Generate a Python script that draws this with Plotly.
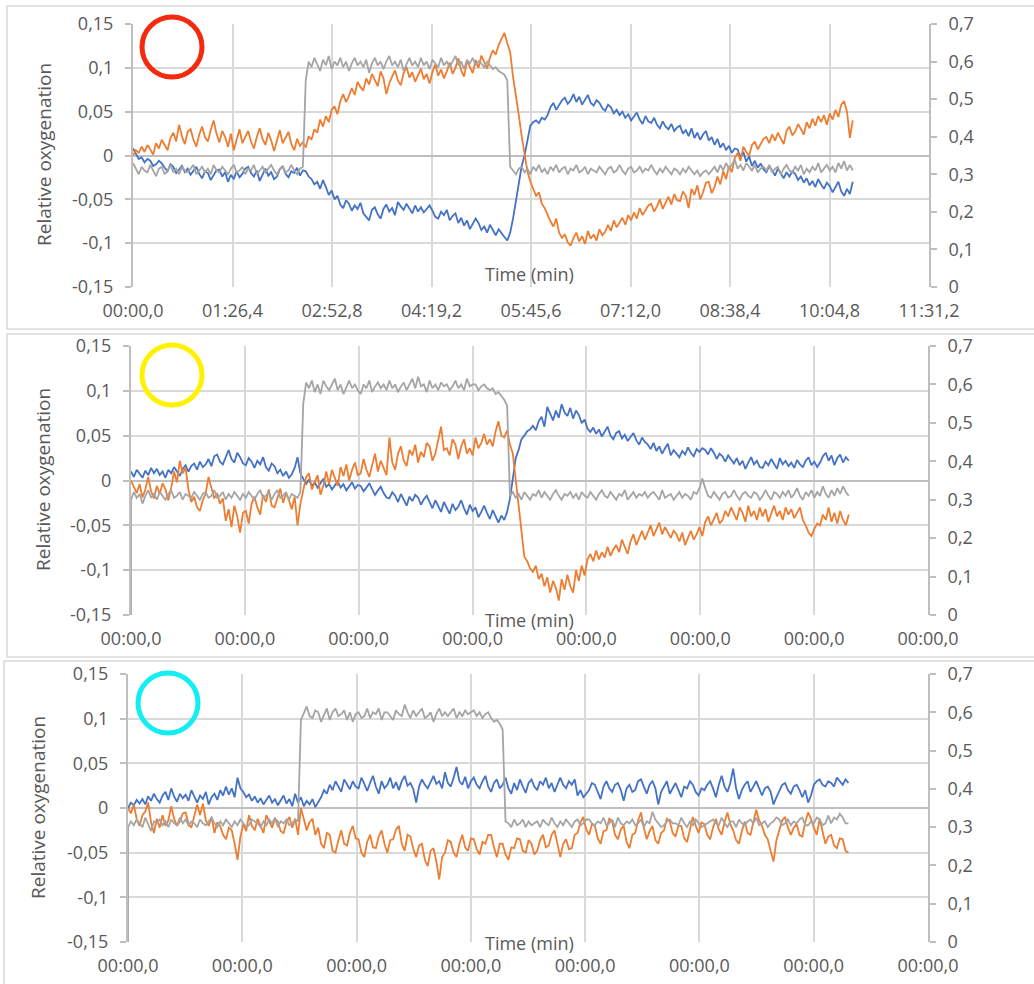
import plotly.graph_objects as go

# ---------------- data (sampled every 2.5 s) ----------------
STEP_S = 2.5

# Panel 1 (red circle)
B1 = [0.008, 0.002, -0.004, -0.002, -0.008, -0.004, -0.006, -0.012, -0.010, -0.006,
      -0.009, -0.014, -0.018, -0.010, -0.013, -0.020, -0.016, -0.012, -0.019, -0.015,
      -0.022, -0.017, -0.013, -0.021, -0.026, -0.018, -0.020, -0.028, -0.023, -0.017,
      -0.016, -0.024, -0.019, -0.030, -0.022, -0.027, -0.018, -0.025, -0.021, -0.015,
      -0.013, -0.020, -0.024, -0.017, -0.029, -0.022, -0.015, -0.023, -0.019, -0.027,
      -0.024, -0.016, -0.012, -0.021, -0.025, -0.018, -0.020, -0.014, -0.023, -0.017,
      -0.018, -0.024, -0.027, -0.033, -0.030, -0.038, -0.028, -0.036, -0.045, -0.040,
      -0.050, -0.046, -0.056, -0.060, -0.051, -0.055, -0.063, -0.057, -0.061, -0.054,
      -0.066, -0.070, -0.074, -0.062, -0.059, -0.067, -0.072, -0.061, -0.056, -0.064,
      -0.060, -0.068, -0.053, -0.058, -0.062, -0.055, -0.061, -0.066, -0.057, -0.064,
      -0.059, -0.065, -0.061, -0.057, -0.063, -0.070, -0.072, -0.064, -0.068, -0.062,
      -0.074, -0.069, -0.066, -0.077, -0.071, -0.080, -0.074, -0.084, -0.078, -0.072,
      -0.077, -0.085, -0.081, -0.088, -0.079, -0.086, -0.091, -0.084, -0.089, -0.093,
      -0.097, -0.088, -0.072, -0.052, -0.030, -0.012, 0.000, 0.018, 0.034, 0.038,
      0.040, 0.037, 0.043, 0.041, 0.046, 0.055, 0.060, 0.052, 0.058, 0.063,
      0.066, 0.059, 0.063, 0.070, 0.061, 0.067, 0.058, 0.064, 0.069, 0.060,
      0.057, 0.063, 0.060, 0.054, 0.051, 0.058, 0.055, 0.048, 0.052, 0.046,
      0.050, 0.043, 0.047, 0.040, 0.044, 0.049, 0.041, 0.036, 0.045, 0.039,
      0.037, 0.043, 0.035, 0.031, 0.039, 0.033, 0.030, 0.036, 0.028, 0.032,
      0.034, 0.025, 0.029, 0.022, 0.031, 0.020, 0.026, 0.018, 0.024, 0.028,
      0.017, 0.021, 0.012, 0.019, 0.009, 0.014, 0.006, 0.011, 0.003, 0.008,
      0.007, -0.002, 0.004, -0.007, -0.001, -0.012, -0.006, -0.014, -0.009, -0.016,
      -0.019, -0.012, -0.017, -0.023, -0.015, -0.021, -0.026, -0.019, -0.024, -0.018,
      -0.021, -0.028, -0.024, -0.031, -0.026, -0.034, -0.029, -0.036, -0.027, -0.033,
      -0.038, -0.031, -0.035, -0.042, -0.036, -0.030, -0.041, -0.046, -0.038, -0.044,
      -0.030]
O1 = [0.000, 0.006, 0.003, 0.010, 0.004, 0.012, 0.007, 0.001, 0.014, 0.008,
      0.018, 0.011, 0.006, 0.020, 0.026, 0.016, 0.035, 0.022, 0.013, 0.027,
      0.030, 0.018, 0.010, 0.024, 0.033, 0.021, 0.016, 0.029, 0.040, 0.025,
      0.015, 0.028, 0.021, 0.010, 0.025, 0.006, 0.018, 0.030, 0.014, 0.022,
      0.028, 0.016, 0.008, 0.021, 0.031, 0.019, 0.012, 0.026, 0.017, 0.005,
      0.018, 0.029, 0.014, 0.020, 0.027, 0.013, 0.006, 0.019, 0.011, 0.015,
      0.009, 0.022, 0.018, 0.030, 0.026, 0.041, 0.033, 0.045, 0.038, 0.052,
      0.056, 0.047, 0.062, 0.070, 0.061, 0.068, 0.077, 0.069, 0.084, 0.078,
      0.074, 0.088, 0.081, 0.093, 0.085, 0.079, 0.096, 0.088, 0.070, 0.082,
      0.090, 0.097, 0.086, 0.080, 0.094, 0.101, 0.089, 0.095, 0.084, 0.092,
      0.099, 0.087, 0.093, 0.082, 0.095, 0.104, 0.091, 0.098, 0.088, 0.096,
      0.106, 0.093, 0.100, 0.111, 0.097, 0.090, 0.108, 0.101, 0.094, 0.109,
      0.100, 0.114, 0.106, 0.099, 0.112, 0.120, 0.115, 0.126, 0.133, 0.140,
      0.128, 0.118, 0.090, 0.065, 0.046, 0.022, 0.002, -0.018, -0.030, -0.038,
      -0.046, -0.042, -0.055, -0.060, -0.068, -0.075, -0.081, -0.072, -0.088, -0.094,
      -0.090, -0.099, -0.103, -0.094, -0.088, -0.098, -0.092, -0.101, -0.086, -0.095,
      -0.090, -0.097, -0.084, -0.091, -0.087, -0.079, -0.086, -0.074, -0.082, -0.077,
      -0.071, -0.079, -0.068, -0.074, -0.065, -0.072, -0.060, -0.068, -0.063, -0.057,
      -0.055, -0.064, -0.058, -0.050, -0.061, -0.053, -0.047, -0.056, -0.044, -0.051,
      -0.052, -0.041, -0.046, -0.060, -0.038, -0.045, -0.034, -0.050, -0.042, -0.031,
      -0.030, -0.043, -0.036, -0.024, -0.033, -0.018, -0.027, -0.012, -0.019, -0.003,
      0.003, -0.006, 0.010, 0.004, 0.000, 0.012, 0.016, 0.007, 0.013, 0.019,
      0.021, 0.014, 0.024, 0.017, 0.026, 0.020, 0.013, 0.028, 0.033, 0.023,
      0.027, 0.036, 0.030, 0.024, 0.038, 0.031, 0.042, 0.034, 0.045, 0.038,
      0.046, 0.035, 0.048, 0.041, 0.052, 0.044, 0.058, 0.062, 0.050, 0.020,
      0.040]
G1 = [0.33, 0.315, 0.30, 0.32, 0.31, 0.305, 0.325, 0.31, 0.295, 0.315,
      0.32, 0.30, 0.31, 0.325, 0.305, 0.315, 0.30, 0.32, 0.31, 0.305,
      0.315, 0.325, 0.30, 0.31, 0.32, 0.305, 0.315, 0.30, 0.325, 0.31,
      0.305, 0.32, 0.31, 0.30, 0.315, 0.325, 0.305, 0.31, 0.32, 0.30,
      0.315, 0.31, 0.325, 0.30, 0.31, 0.32, 0.305, 0.315, 0.325, 0.31,
      0.30, 0.315, 0.32, 0.305, 0.31, 0.325, 0.31, 0.30, 0.315, 0.32,
      0.55, 0.60, 0.585, 0.61, 0.59, 0.575, 0.605, 0.59, 0.615, 0.58,
      0.60, 0.59, 0.61, 0.585, 0.60, 0.575, 0.595, 0.61, 0.59, 0.60,
      0.585, 0.605, 0.57, 0.595, 0.61, 0.59, 0.60, 0.58, 0.60, 0.615,
      0.59, 0.60, 0.585, 0.605, 0.575, 0.595, 0.61, 0.59, 0.60, 0.585,
      0.61, 0.59, 0.60, 0.58, 0.605, 0.595, 0.585, 0.61, 0.59, 0.60,
      0.585, 0.60, 0.615, 0.59, 0.60, 0.58, 0.605, 0.595, 0.61, 0.59,
      0.60, 0.595, 0.585, 0.60, 0.59, 0.58, 0.585, 0.575, 0.57, 0.565,
      0.55, 0.32, 0.31, 0.30, 0.315, 0.32, 0.305, 0.315, 0.30, 0.32,
      0.31, 0.325, 0.305, 0.315, 0.30, 0.32, 0.31, 0.325, 0.305, 0.315,
      0.32, 0.30, 0.315, 0.31, 0.325, 0.305, 0.31, 0.32, 0.30, 0.315,
      0.31, 0.305, 0.32, 0.31, 0.30, 0.315, 0.32, 0.305, 0.31, 0.325,
      0.31, 0.30, 0.315, 0.32, 0.305, 0.31, 0.32, 0.305, 0.315, 0.31,
      0.325, 0.31, 0.30, 0.315, 0.305, 0.32, 0.31, 0.30, 0.315, 0.31,
      0.30, 0.315, 0.305, 0.32, 0.31, 0.30, 0.31, 0.295, 0.305, 0.31,
      0.30, 0.31, 0.32, 0.305, 0.325, 0.31, 0.33, 0.315, 0.325, 0.34,
      0.315, 0.325, 0.31, 0.33, 0.32, 0.31, 0.325, 0.305, 0.315, 0.32,
      0.31, 0.325, 0.305, 0.315, 0.32, 0.30, 0.315, 0.325, 0.31, 0.305,
      0.32, 0.31, 0.325, 0.30, 0.315, 0.305, 0.32, 0.31, 0.33, 0.305,
      0.315, 0.325, 0.31, 0.32, 0.305, 0.33, 0.315, 0.335, 0.31, 0.325,
      0.31]

# Panel 2 (yellow circle)
B2 = [0.010, 0.004, 0.012, 0.007, 0.003, 0.011, 0.006, 0.014, 0.008, 0.013,
      0.006, 0.010, 0.003, 0.012, 0.008, 0.015, 0.010, 0.005, 0.013, 0.017,
      0.010, 0.016, 0.019, 0.012, 0.021, 0.015, 0.018, 0.024, 0.016, 0.027,
      0.029, 0.021, 0.018, 0.026, 0.034, 0.024, 0.020, 0.031, 0.026, 0.019,
      0.017, 0.025, 0.021, 0.014, 0.022, 0.018, 0.026, 0.015, 0.011, 0.019,
      0.016, 0.008, 0.012, 0.005, 0.010, 0.003, 0.007, 0.014, 0.026, 0.008,
      0.002, -0.004, 0.001, -0.006, -0.002, -0.008, -0.003, 0.002, -0.007, -0.004,
      -0.010, -0.005, -0.001, -0.008, -0.004, -0.011, -0.006, -0.002, -0.009, -0.005,
      -0.006, -0.012, -0.008, -0.003, -0.010, -0.016, -0.011, -0.007, -0.014, -0.019,
      -0.020, -0.013, -0.017, -0.024, -0.015, -0.021, -0.028, -0.018, -0.023, -0.016,
      -0.019, -0.027, -0.021, -0.017, -0.025, -0.031, -0.022, -0.028, -0.035, -0.024,
      -0.030, -0.037, -0.026, -0.033, -0.029, -0.022, -0.031, -0.038, -0.027, -0.034,
      -0.030, -0.041, -0.035, -0.028, -0.036, -0.043, -0.033, -0.040, -0.047, -0.039,
      -0.044, -0.035, -0.020, 0.002, 0.025, 0.034, 0.046, 0.050, 0.055, 0.057,
      0.061, 0.056, 0.066, 0.071, 0.060, 0.082, 0.074, 0.067, 0.078, 0.070,
      0.085, 0.076, 0.072, 0.081, 0.069, 0.078, 0.073, 0.064, 0.068, 0.058,
      0.054, 0.059, 0.052, 0.057, 0.049, 0.055, 0.060, 0.050, 0.046, 0.053,
      0.055, 0.047, 0.051, 0.044, 0.049, 0.053, 0.045, 0.040, 0.048, 0.043,
      0.040, 0.035, 0.042, 0.033, 0.038, 0.030, 0.036, 0.041, 0.028, 0.034,
      0.030, 0.026, 0.033, 0.029, 0.037, 0.031, 0.027, 0.035, 0.032, 0.036,
      0.034, 0.029, 0.036, 0.031, 0.024, 0.030, 0.027, 0.021, 0.028, 0.024,
      0.019, 0.025, 0.017, 0.022, 0.013, 0.020, 0.026, 0.018, 0.022, 0.015,
      0.014, 0.021, 0.017, 0.024, 0.019, 0.013, 0.025, 0.018, 0.022, 0.016,
      0.020, 0.014, 0.023, 0.018, 0.015, 0.022, 0.026, 0.017, 0.021, 0.015,
      0.020, 0.027, 0.031, 0.022, 0.028, 0.017, 0.025, 0.029, 0.020, 0.026,
      0.022]
O2 = [0.000, -0.008, -0.014, -0.004, -0.019, -0.010, 0.004, -0.012, -0.020, -0.006,
      -0.015, -0.003, -0.010, -0.022, -0.008, 0.010, -0.002, 0.022, 0.008, 0.014,
      -0.010, -0.024, -0.018, -0.030, -0.034, -0.022, -0.015, 0.004, -0.008, -0.020,
      -0.014, -0.026, -0.020, -0.045, -0.032, -0.052, -0.028, -0.040, -0.058, -0.036,
      -0.034, -0.048, -0.026, -0.018, -0.030, -0.038, -0.016, -0.024, -0.010, -0.028,
      -0.030, -0.018, -0.009, -0.025, -0.014, -0.022, -0.032, -0.018, -0.050, -0.026,
      -0.012, 0.004, 0.008, -0.010, -0.002, 0.006, -0.016, -0.006, 0.010, -0.004,
      0.012, 0.002, -0.006, 0.015, 0.005, 0.018, 0.000, 0.012, 0.020, 0.006,
      0.008, 0.024, 0.012, 0.004, 0.018, 0.030, 0.010, 0.022, 0.014, 0.006,
      0.048, 0.020, 0.012, 0.030, 0.038, 0.022, 0.016, 0.034, 0.028, 0.040,
      0.020, 0.032, 0.026, 0.042, 0.038, 0.022, 0.030, 0.045, 0.060, 0.034,
      0.036, 0.028, 0.046, 0.040, 0.024, 0.038, 0.046, 0.030, 0.036, 0.028,
      0.048, 0.036, 0.042, 0.052, 0.040, 0.046, 0.038, 0.055, 0.066, 0.050,
      0.048, 0.056, 0.040, 0.030, 0.000, -0.030, -0.055, -0.085, -0.090, -0.098,
      -0.102, -0.095, -0.110, -0.104, -0.118, -0.108, -0.125, -0.112, -0.120, -0.134,
      -0.110, -0.122, -0.105, -0.118, -0.125, -0.100, -0.112, -0.095, -0.106, -0.088,
      -0.082, -0.090, -0.078, -0.088, -0.080, -0.086, -0.074, -0.084, -0.077, -0.072,
      -0.080, -0.066, -0.074, -0.082, -0.068, -0.060, -0.072, -0.064, -0.056, -0.066,
      -0.058, -0.050, -0.062, -0.054, -0.047, -0.060, -0.052, -0.058, -0.064, -0.056,
      -0.060, -0.068, -0.058, -0.072, -0.064, -0.056, -0.066, -0.060, -0.052, -0.062,
      -0.046, -0.040, -0.050, -0.042, -0.036, -0.048, -0.044, -0.034, -0.040, -0.030,
      -0.038, -0.044, -0.030, -0.036, -0.046, -0.028, -0.040, -0.034, -0.044, -0.030,
      -0.040, -0.032, -0.046, -0.036, -0.028, -0.040, -0.034, -0.044, -0.030, -0.038,
      -0.032, -0.042, -0.036, -0.030, -0.044, -0.050, -0.058, -0.062, -0.054, -0.048,
      -0.050, -0.038, -0.044, -0.030, -0.046, -0.036, -0.048, -0.034, -0.044, -0.050,
      -0.038]
G2_FIRST = 0.0
G2 = [0.30, 0.32, 0.305, 0.315, 0.29, 0.31, 0.325, 0.305, 0.315, 0.30,
      0.32, 0.31, 0.30, 0.315, 0.325, 0.305, 0.31, 0.32, 0.30, 0.315,
      0.31, 0.305, 0.32, 0.31, 0.30, 0.315, 0.32, 0.305, 0.31, 0.325,
      0.305, 0.31, 0.32, 0.30, 0.315, 0.305, 0.32, 0.31, 0.30, 0.315,
      0.305, 0.32, 0.31, 0.30, 0.315, 0.325, 0.305, 0.31, 0.32, 0.30,
      0.315, 0.325, 0.305, 0.31, 0.32, 0.30, 0.315, 0.31, 0.305, 0.32,
      0.55, 0.605, 0.59, 0.61, 0.58, 0.60, 0.575, 0.61, 0.595, 0.585,
      0.60, 0.615, 0.585, 0.60, 0.575, 0.595, 0.61, 0.59, 0.60, 0.585,
      0.575, 0.60, 0.59, 0.61, 0.58, 0.595, 0.605, 0.59, 0.60, 0.585,
      0.61, 0.59, 0.60, 0.58, 0.595, 0.605, 0.585, 0.60, 0.615, 0.59,
      0.62, 0.595, 0.60, 0.58, 0.61, 0.59, 0.60, 0.585, 0.605, 0.595,
      0.60, 0.585, 0.595, 0.61, 0.59, 0.60, 0.585, 0.615, 0.595, 0.60,
      0.60, 0.585, 0.595, 0.60, 0.59, 0.585, 0.59, 0.575, 0.58, 0.57,
      0.56, 0.545, 0.31, 0.32, 0.305, 0.315, 0.30, 0.32, 0.31, 0.30,
      0.315, 0.31, 0.325, 0.305, 0.32, 0.31, 0.30, 0.315, 0.325, 0.31,
      0.30, 0.315, 0.31, 0.32, 0.305, 0.315, 0.30, 0.32, 0.31, 0.305,
      0.32, 0.31, 0.30, 0.315, 0.325, 0.31, 0.305, 0.32, 0.31, 0.30,
      0.315, 0.31, 0.325, 0.30, 0.31, 0.32, 0.305, 0.315, 0.31, 0.32,
      0.305, 0.315, 0.32, 0.31, 0.30, 0.325, 0.305, 0.31, 0.315, 0.30,
      0.31, 0.32, 0.305, 0.315, 0.31, 0.30, 0.32, 0.315, 0.33, 0.355,
      0.33, 0.31, 0.305, 0.32, 0.31, 0.30, 0.315, 0.32, 0.305, 0.31,
      0.325, 0.31, 0.30, 0.315, 0.32, 0.31, 0.305, 0.32, 0.315, 0.30,
      0.31, 0.325, 0.31, 0.30, 0.32, 0.315, 0.305, 0.32, 0.31, 0.325,
      0.305, 0.315, 0.33, 0.31, 0.30, 0.32, 0.31, 0.325, 0.305, 0.32,
      0.31, 0.335, 0.315, 0.305, 0.325, 0.31, 0.33, 0.315, 0.335, 0.32,
      0.31]

# Panel 3 (cyan circle)
B3 = [0.000, 0.006, 0.003, 0.009, 0.005, 0.010, 0.004, 0.013, 0.008, 0.016,
      0.010, 0.006, 0.014, 0.018, 0.009, 0.022, 0.013, 0.007, 0.016, 0.011,
      0.015, 0.008, 0.020, 0.012, 0.006, 0.014, 0.010, 0.018, 0.004, 0.012,
      0.016, 0.009, 0.020, 0.014, 0.024, 0.015, 0.022, 0.012, 0.034, 0.022,
      0.018, 0.012, 0.015, 0.008, 0.013, 0.006, 0.011, 0.004, 0.009, 0.014,
      0.006, 0.010, 0.003, 0.008, 0.014, 0.005, 0.010, 0.002, 0.016, 0.006,
      0.012, 0.002, 0.008, 0.004, 0.010, 0.001, 0.006, 0.012, 0.020, 0.016,
      0.026, 0.020, 0.030, 0.024, 0.018, 0.032, 0.026, 0.021, 0.030, 0.024,
      0.022, 0.034, 0.027, 0.019, 0.028, 0.036, 0.024, 0.016, 0.030, 0.022,
      0.026, 0.034, 0.022, 0.029, 0.020, 0.030, 0.036, 0.025, 0.028, 0.021,
      0.006, 0.024, 0.032, 0.026, 0.022, 0.030, 0.036, 0.027, 0.030, 0.022,
      0.040, 0.028, 0.024, 0.034, 0.046, 0.030, 0.026, 0.035, 0.022, 0.030,
      0.034, 0.026, 0.022, 0.030, 0.036, 0.024, 0.018, 0.028, 0.032, 0.022,
      0.026, 0.034, 0.022, 0.016, 0.028, 0.020, 0.032, 0.024, 0.017, 0.028,
      0.032, 0.024, 0.020, 0.030, 0.026, 0.034, 0.022, 0.028, 0.018, 0.026,
      0.034, 0.026, 0.022, 0.030, 0.026, 0.032, 0.014, 0.020, 0.012, 0.016,
      0.020, 0.028, 0.026, 0.018, 0.010, 0.024, 0.030, 0.022, 0.018, 0.026,
      0.028, 0.020, 0.008, 0.022, 0.026, 0.018, 0.020, 0.030, 0.032, 0.024,
      0.016, 0.026, 0.030, 0.022, 0.004, 0.018, 0.024, 0.030, 0.016, 0.022,
      0.028, 0.020, 0.012, 0.024, 0.022, 0.030, 0.026, 0.018, 0.014, 0.022,
      0.020, 0.026, 0.030, 0.022, 0.012, 0.026, 0.036, 0.024, 0.018, 0.028,
      0.044, 0.022, 0.010, 0.020, 0.026, 0.030, 0.018, 0.024, 0.030, 0.022,
      0.014, 0.022, 0.024, 0.018, 0.004, 0.012, 0.020, 0.026, 0.028, 0.020,
      0.016, 0.024, 0.026, 0.020, 0.012, 0.020, 0.006, 0.014, 0.026, 0.030,
      0.032, 0.026, 0.024, 0.030, 0.028, 0.024, 0.034, 0.030, 0.026, 0.032,
      0.028]
O3 = [0.000, -0.006, 0.004, -0.012, -0.020, -0.008, -0.004, 0.006, -0.016, -0.028,
      -0.012, -0.022, -0.008, -0.020, -0.014, 0.002, -0.012, -0.020, -0.015, -0.006,
      -0.005, -0.018, -0.022, -0.010, 0.004, -0.008, 0.005, -0.014, -0.020, -0.010,
      -0.028, -0.016, -0.020, -0.030, -0.035, -0.022, -0.025, -0.040, -0.058, -0.032,
      -0.018, -0.026, -0.008, -0.020, -0.025, -0.012, -0.020, -0.028, -0.008, -0.016,
      -0.022, -0.012, -0.015, -0.026, -0.028, -0.016, -0.010, -0.022, -0.012, -0.030,
      0.000, -0.012, -0.025, -0.016, -0.012, -0.030, -0.022, -0.040, -0.045, -0.028,
      -0.030, -0.048, -0.050, -0.036, -0.025, -0.040, -0.042, -0.028, -0.020, -0.034,
      -0.035, -0.050, -0.055, -0.038, -0.030, -0.044, -0.045, -0.032, -0.025, -0.040,
      -0.050, -0.036, -0.035, -0.024, -0.020, -0.040, -0.048, -0.030, -0.032, -0.046,
      -0.055, -0.042, -0.040, -0.058, -0.065, -0.048, -0.045, -0.060, -0.080, -0.055,
      -0.050, -0.036, -0.038, -0.050, -0.055, -0.040, -0.030, -0.044, -0.048, -0.034,
      -0.035, -0.046, -0.052, -0.038, -0.040, -0.030, -0.030, -0.044, -0.055, -0.040,
      -0.040, -0.052, -0.058, -0.044, -0.045, -0.034, -0.035, -0.048, -0.050, -0.036,
      -0.040, -0.052, -0.048, -0.036, -0.030, -0.044, -0.042, -0.030, -0.025, -0.040,
      -0.055, -0.040, -0.035, -0.046, -0.045, -0.030, -0.028, -0.016, -0.010, -0.024,
      -0.030, -0.018, -0.020, -0.034, -0.040, -0.026, -0.025, -0.012, -0.015, -0.030,
      -0.035, -0.024, -0.020, -0.038, -0.045, -0.030, -0.028, -0.014, -0.005, -0.022,
      -0.035, -0.026, -0.020, -0.036, -0.040, -0.028, -0.025, -0.012, -0.015, -0.028,
      -0.032, -0.020, -0.020, -0.034, -0.038, -0.024, -0.010, -0.020, -0.028, -0.016,
      -0.018, -0.030, -0.035, -0.022, -0.012, -0.024, -0.030, -0.016, -0.005, -0.018,
      -0.025, -0.036, -0.040, -0.026, -0.015, -0.028, -0.030, -0.016, -0.002, -0.014,
      -0.020, -0.030, -0.035, -0.048, -0.060, -0.036, -0.025, -0.014, -0.010, -0.022,
      -0.030, -0.022, -0.018, -0.030, -0.032, -0.016, -0.005, -0.012, -0.022, -0.030,
      -0.012, -0.028, -0.040, -0.032, -0.030, -0.042, -0.045, -0.034, -0.035, -0.048,
      -0.050]
G3_FIRST = 0.0
G3 = [0.30, 0.315, 0.305, 0.32, 0.31, 0.30, 0.325, 0.305, 0.29, 0.315,
      0.31, 0.32, 0.305, 0.315, 0.30, 0.32, 0.31, 0.305, 0.325, 0.31,
      0.32, 0.305, 0.315, 0.31, 0.30, 0.32, 0.31, 0.305, 0.315, 0.325,
      0.31, 0.30, 0.315, 0.305, 0.32, 0.31, 0.30, 0.315, 0.305, 0.32,
      0.31, 0.30, 0.305, 0.32, 0.315, 0.31, 0.30, 0.315, 0.305, 0.32,
      0.31, 0.325, 0.30, 0.315, 0.31, 0.32, 0.305, 0.31, 0.32, 0.315,
      0.58, 0.60, 0.615, 0.59, 0.585, 0.605, 0.60, 0.575, 0.595, 0.61,
      0.58, 0.60, 0.61, 0.59, 0.595, 0.605, 0.58, 0.60, 0.575, 0.595,
      0.60, 0.585, 0.59, 0.61, 0.585, 0.60, 0.595, 0.61, 0.58, 0.60,
      0.60, 0.59, 0.58, 0.605, 0.595, 0.59, 0.62, 0.60, 0.585, 0.605,
      0.59, 0.60, 0.61, 0.585, 0.59, 0.60, 0.575, 0.595, 0.61, 0.59,
      0.60, 0.59, 0.60, 0.61, 0.585, 0.60, 0.59, 0.605, 0.595, 0.60,
      0.605, 0.59, 0.60, 0.585, 0.595, 0.60, 0.585, 0.575, 0.58, 0.57,
      0.555, 0.315, 0.31, 0.30, 0.32, 0.305, 0.31, 0.32, 0.30, 0.315,
      0.305, 0.31, 0.315, 0.30, 0.32, 0.31, 0.305, 0.325, 0.31, 0.30,
      0.315, 0.305, 0.32, 0.31, 0.30, 0.315, 0.32, 0.305, 0.31, 0.32,
      0.32, 0.31, 0.305, 0.315, 0.31, 0.325, 0.305, 0.31, 0.32, 0.30,
      0.325, 0.31, 0.305, 0.315, 0.31, 0.32, 0.305, 0.31, 0.32, 0.30,
      0.315, 0.31, 0.34, 0.32, 0.31, 0.30, 0.305, 0.315, 0.32, 0.31,
      0.31, 0.305, 0.325, 0.31, 0.30, 0.315, 0.305, 0.32, 0.31, 0.30,
      0.305, 0.31, 0.315, 0.32, 0.31, 0.305, 0.325, 0.31, 0.30, 0.315,
      0.315, 0.30, 0.32, 0.31, 0.305, 0.315, 0.32, 0.31, 0.325, 0.305,
      0.31, 0.315, 0.30, 0.31, 0.315, 0.325, 0.32, 0.305, 0.31, 0.32,
      0.305, 0.315, 0.31, 0.32, 0.325, 0.305, 0.305, 0.315, 0.31, 0.325,
      0.32, 0.305, 0.31, 0.33, 0.31, 0.325, 0.32, 0.335, 0.325, 0.31,
      0.31]

# tick labels
X_TICKS_P1 = ["00:00,0", "01:26,4", "02:52,8", "04:19,2", "05:45,6",
              "07:12,0", "08:38,4", "10:04,8", "11:31,2"]
X_TICKS_P23 = ["00:00,0"] * 8
LEFT_VALS = [-0.15, -0.1, -0.05, 0, 0.05, 0.1, 0.15]
LEFT_TEXT = ["-0,15", "-0,1", "-0,05", "0", "0,05", "0,1", "0,15"]
RIGHT_VALS = [0, 0.1, 0.2, 0.3, 0.4, 0.5, 0.6, 0.7]
RIGHT_TEXT = ["0", "0,1", "0,2", "0,3", "0,4", "0,5", "0,6", "0,7"]

# ---------------- styling ----------------
W, H = 1034, 984
BLUE, ORANGE, GRAY = "#4472C4", "#ED7D31", "#A5A5A5"
GRID = "#d9d9d9"
AXIS = "#bfbfbf"
TXT = "#595959"
FONT = "Open Sans"
LW = 1.8

panels = [
    dict(B=B1, O=O1, G=G1, G0=None, x0=133, x1=929, y0=24, y1=287, xmax=691.2,
         xt=X_TICKS_P1, circle=(172, 47, "#f42a0c"), time_y=274, ylab=(44, 155)),
    dict(B=B2, O=O2, G=G2, G0=G2_FIRST, x0=131, x1=928, y0=346, y1=615, xmax=694.0,
         xt=X_TICKS_P23, circle=(172, 375, "#fff200"), time_y=620, ylab=(43, 480)),
    dict(B=B3, O=O3, G=G3, G0=G3_FIRST, x0=128, x1=928, y0=674, y1=942, xmax=694.0,
         xt=X_TICKS_P23, circle=(168, 703, "#12eef2"), time_y=943, ylab=(38, 808)),
]
boxes = [(7, 6, 1040, 329), (7, 334, 1040, 657), (4, 661, 1040, 995)]


def px(x):
    return x / W


def py(y):
    return 1 - y / H


def times(values):
    return [STEP_S * j for j in range(len(values))]


fig = go.Figure()
layout = dict(
    template="none",
    width=W, height=H, autosize=False,
    margin=dict(l=0, r=0, t=0, b=0, pad=0, autoexpand=False),
    paper_bgcolor="white", plot_bgcolor="white", showlegend=False,
    font=dict(family=FONT, color=TXT, size=18),
    shapes=[], annotations=[],
)

for i, p in enumerate(panels):
    k = i + 1
    xa = "x" if k == 1 else f"x{k}"
    ya = "y" if i == 0 else f"y{2 * i + 1}"
    yb = f"y{2 * i + 2}"
    fig.add_trace(go.Scatter(x=times(p["B"]), y=p["B"], mode="lines",
                             line=dict(color=BLUE, width=LW), xaxis=xa, yaxis=ya, hoverinfo="skip"))
    fig.add_trace(go.Scatter(x=times(p["O"]), y=p["O"], mode="lines",
                             line=dict(color=ORANGE, width=LW), xaxis=xa, yaxis=ya, hoverinfo="skip"))
    gt = times(p["G"])
    gv = list(p["G"])
    if p["G0"] is not None:
        gt = [0.0] + gt
        gv = [p["G0"]] + gv
    fig.add_trace(go.Scatter(x=gt, y=gv, mode="lines", line=dict(color=GRAY, width=LW),
                             xaxis=xa, yaxis=yb, hoverinfo="skip"))

    nt = len(p["xt"]) - 1
    xvals = [p["xmax"] * j / nt for j in range(nt + 1)]
    xkey = "xaxis" if k == 1 else f"xaxis{k}"
    layout[xkey] = dict(
        domain=[px(p["x0"]), px(p["x1"])], anchor=ya, range=[0, p["xmax"]], automargin=False,
        tickmode="array", tickvals=xvals, ticktext=p["xt"],
        showgrid=True, gridcolor=GRID, gridwidth=2, zeroline=False, showline=False,
        ticks="", ticklabelstandoff=11, tickfont=dict(size=18, color=TXT, family=FONT),
    )
    ykey = "yaxis" if i == 0 else f"yaxis{2 * i + 1}"
    layout[ykey] = dict(
        domain=[py(p["y1"]), py(p["y0"])], anchor=xa, range=[-0.15, 0.15], automargin=False,
        tickmode="array", tickvals=LEFT_VALS, ticktext=LEFT_TEXT,
        showgrid=True, gridcolor=GRID, gridwidth=2,
        zeroline=True, zerolinecolor=AXIS, zerolinewidth=2,
        showline=True, linecolor=AXIS, linewidth=2,
        ticks="outside", ticklen=6, tickwidth=2, tickcolor=AXIS, ticklabelstandoff=8,
        tickfont=dict(size=18, color=TXT, family=FONT),
    )
    layout[f"yaxis{2 * i + 2}"] = dict(
        overlaying=ya, side="right", anchor=xa, range=[0, 0.7], automargin=False,
        tickmode="array", tickvals=RIGHT_VALS, ticktext=RIGHT_TEXT,
        showgrid=False, zeroline=False, showline=True, linecolor=AXIS, linewidth=2,
        ticks="outside", ticklen=6, tickwidth=2, tickcolor=AXIS, ticklabelstandoff=8,
        tickfont=dict(size=18, color=TXT, family=FONT),
    )

    cx, cy, ccol = p["circle"]
    r = 30
    layout["shapes"].append(dict(type="circle", xref="paper", yref="paper",
                                 x0=px(cx - r), x1=px(cx + r), y0=py(cy + r), y1=py(cy - r),
                                 line=dict(color=ccol, width=5), layer="above"))
    layout["annotations"].append(dict(text="Time (min)", xref="paper", yref="paper",
                                      x=px(529), y=py(p["time_y"]), showarrow=False,
                                      xanchor="center", yanchor="middle",
                                      font=dict(size=18, color=TXT, family=FONT)))
    lx, ly = p["ylab"]
    layout["annotations"].append(dict(text="Relative oxygenation", xref="paper", yref="paper",
                                      x=px(lx), y=py(ly), showarrow=False, textangle=-90,
                                      xanchor="center", yanchor="middle",
                                      font=dict(size=19, color=TXT, family=FONT)))

for (bx0, by0, bx1, by1) in boxes:
    layout["shapes"].append(dict(type="rect", xref="paper", yref="paper",
                                 x0=px(bx0), x1=px(bx1), y0=py(by1), y1=py(by0),
                                 line=dict(color="#d9d9d9", width=1.5), layer="below"))

fig.update_layout(**layout)
fig.write_html("out.html", config={"displayModeBar": False},
               post_script="document.body.style.margin='0';document.body.style.overflow='hidden';")
